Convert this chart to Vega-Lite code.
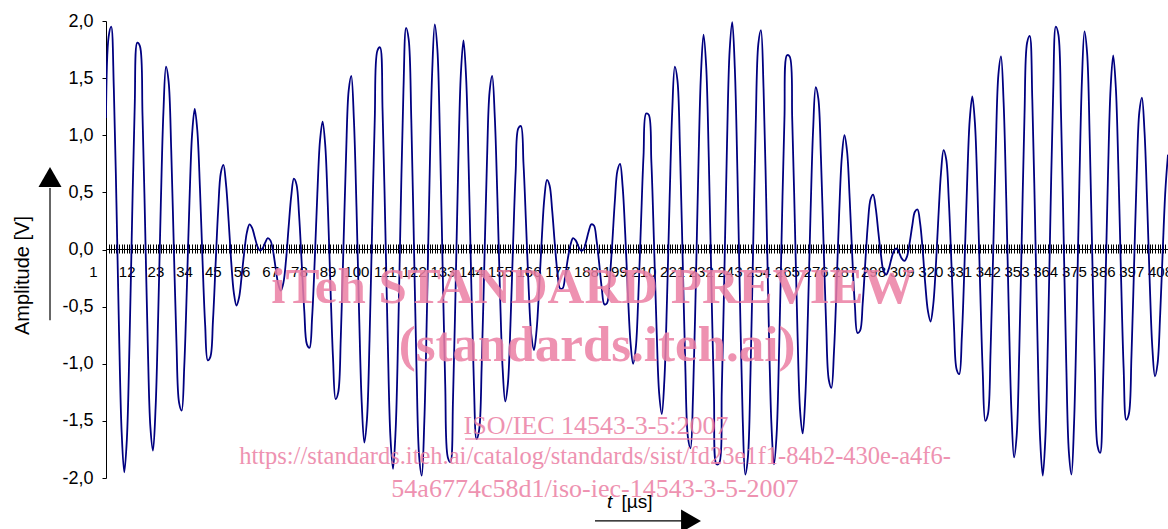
{
  "$schema": "https://vega.github.io/schema/vega-lite/v6.json",
  "width": 1062,
  "height": 457,
  "autosize": "none",
  "padding": {"left": 106, "top": 21, "right": 0, "bottom": 51},
  "background": "white",
  "config": {
    "view": {"stroke": null},
    "axis": {"domainColor": "black", "tickColor": "black", "labelColor": "black", "titleColor": "black", "grid": false}
  },
  "datasets": {
    "sig": [
      {"t":1,"v":1.15},{"t":2,"v":1.86},{"t":3,"v":1.95},{"t":4,"v":1.41},{"t":5,"v":0.41},{"t":6,"v":-0.72},{"t":7,"v":-1.60},{"t":8,"v":-1.95},{"t":9,"v":-1.66},{"t":10,"v":-0.83},
      {"t":11,"v":0.26},{"t":12,"v":1.25},{"t":13,"v":1.81},{"t":14,"v":1.78},{"t":15,"v":1.17},{"t":16,"v":0.20},{"t":17,"v":-0.82},{"t":18,"v":-1.55},{"t":19,"v":-1.76},{"t":20,"v":-1.39},
      {"t":21,"v":-0.58},{"t":22,"v":0.39},{"t":23,"v":1.20},{"t":24,"v":1.60},{"t":25,"v":1.47},{"t":26,"v":0.87},{"t":27,"v":0.01},{"t":28,"v":-0.81},{"t":29,"v":-1.34},{"t":30,"v":-1.41},
      {"t":31,"v":-1.02},{"t":32,"v":-0.33},{"t":33,"v":0.43},{"t":34,"v":1.01},{"t":35,"v":1.23},{"t":36,"v":1.04},{"t":37,"v":0.54},{"t":38,"v":-0.10},{"t":39,"v":-0.66},{"t":40,"v":-0.97},
      {"t":41,"v":-0.94},{"t":42,"v":-0.62},{"t":43,"v":-0.13},{"t":44,"v":0.35},{"t":45,"v":0.67},{"t":46,"v":0.74},{"t":47,"v":0.57},{"t":48,"v":0.25},{"t":49,"v":-0.11},{"t":50,"v":-0.38},
      {"t":51,"v":-0.49},{"t":52,"v":-0.42},{"t":53,"v":-0.23},{"t":54,"v":-0.02},{"t":55,"v":0.15},{"t":56,"v":0.22},{"t":57,"v":0.19},{"t":58,"v":0.11},{"t":59,"v":0.03},{"t":60,"v":-0.01},
      {"t":61,"v":0.01},{"t":62,"v":0.06},{"t":63,"v":0.10},{"t":64,"v":0.08},{"t":65,"v":-0.01},{"t":66,"v":-0.16},{"t":67,"v":-0.30},{"t":68,"v":-0.36},{"t":69,"v":-0.29},{"t":70,"v":-0.09},
      {"t":71,"v":0.20},{"t":72,"v":0.47},{"t":73,"v":0.62},{"t":74,"v":0.57},{"t":75,"v":0.30},{"t":76,"v":-0.12},{"t":77,"v":-0.54},{"t":78,"v":-0.83},{"t":79,"v":-0.86},{"t":80,"v":-0.59},
      {"t":81,"v":-0.09},{"t":82,"v":0.49},{"t":83,"v":0.95},{"t":84,"v":1.12},{"t":85,"v":0.92},{"t":86,"v":0.39},{"t":87,"v":-0.31},{"t":88,"v":-0.95},{"t":89,"v":-1.31},{"t":90,"v":-1.25},
      {"t":91,"v":-0.76},{"t":92,"v":0.02},{"t":93,"v":0.82},{"t":94,"v":1.39},{"t":95,"v":1.52},{"t":96,"v":1.14},{"t":97,"v":0.37},{"t":98,"v":-0.56},{"t":99,"v":-1.34},{"t":100,"v":-1.69},
      {"t":101,"v":-1.49},{"t":102,"v":-0.79},{"t":103,"v":0.20},{"t":104,"v":1.14},{"t":105,"v":1.74},{"t":106,"v":1.77},{"t":107,"v":1.21},{"t":108,"v":0.24},{"t":109,"v":-0.82},{"t":110,"v":-1.64},
      {"t":111,"v":-1.92},{"t":112,"v":-1.58},{"t":113,"v":-0.71},{"t":114,"v":0.41},{"t":115,"v":1.40},{"t":116,"v":1.94},{"t":117,"v":1.84},{"t":118,"v":1.14},{"t":119,"v":0.06},{"t":120,"v":-1.04},
      {"t":121,"v":-1.81},{"t":122,"v":-1.98},{"t":123,"v":-1.50},{"t":124,"v":-0.53},{"t":125,"v":0.61},{"t":126,"v":1.55},{"t":127,"v":1.97},{"t":128,"v":1.75},{"t":129,"v":0.96},{"t":130,"v":-0.14},
      {"t":131,"v":-1.18},{"t":132,"v":-1.82},{"t":133,"v":-1.86},{"t":134,"v":-1.30},{"t":135,"v":-0.32},{"t":136,"v":0.74},{"t":137,"v":1.54},{"t":138,"v":1.83},{"t":139,"v":1.51},{"t":140,"v":0.71},
      {"t":141,"v":-0.30},{"t":142,"v":-1.18},{"t":143,"v":-1.66},{"t":144,"v":-1.58},{"t":145,"v":-1.00},{"t":146,"v":-0.12},{"t":147,"v":0.77},{"t":148,"v":1.38},{"t":149,"v":1.52},{"t":150,"v":1.16},
      {"t":151,"v":0.45},{"t":152,"v":-0.38},{"t":153,"v":-1.04},{"t":154,"v":-1.33},{"t":155,"v":-1.18},{"t":156,"v":-0.66},{"t":157,"v":0.04},{"t":158,"v":0.68},{"t":159,"v":1.06},{"t":160,"v":1.08},
      {"t":161,"v":0.75},{"t":162,"v":0.21},{"t":163,"v":-0.35},{"t":164,"v":-0.75},{"t":165,"v":-0.88},{"t":166,"v":-0.71},{"t":167,"v":-0.34},{"t":168,"v":0.09},{"t":169,"v":0.45},{"t":170,"v":0.61},
      {"t":171,"v":0.56},{"t":172,"v":0.34},{"t":173,"v":0.05},{"t":174,"v":-0.20},{"t":175,"v":-0.34},{"t":176,"v":-0.34},{"t":177,"v":-0.23},{"t":178,"v":-0.08},{"t":179,"v":0.04},{"t":180,"v":0.10},
      {"t":181,"v":0.08},{"t":182,"v":0.03},{"t":183,"v":-0.01},{"t":184,"v":0.00},{"t":185,"v":0.07},{"t":186,"v":0.16},{"t":187,"v":0.22},{"t":188,"v":0.21},{"t":189,"v":0.08},{"t":190,"v":-0.12},
      {"t":191,"v":-0.34},{"t":192,"v":-0.48},{"t":193,"v":-0.47},{"t":194,"v":-0.27},{"t":195,"v":0.05},{"t":196,"v":0.42},{"t":197,"v":0.69},{"t":198,"v":0.75},{"t":199,"v":0.55},{"t":200,"v":0.13},
      {"t":201,"v":-0.38},{"t":202,"v":-0.81},{"t":203,"v":-1.00},{"t":204,"v":-0.87},{"t":205,"v":-0.42},{"t":206,"v":0.21},{"t":207,"v":0.82},{"t":208,"v":1.19},{"t":209,"v":1.18},{"t":210,"v":0.77},
      {"t":211,"v":0.07},{"t":212,"v":-0.69},{"t":213,"v":-1.26},{"t":214,"v":-1.44},{"t":215,"v":-1.14},{"t":216,"v":-0.44},{"t":217,"v":0.44},{"t":218,"v":1.21},{"t":219,"v":1.60},{"t":220,"v":1.48},
      {"t":221,"v":0.85},{"t":222,"v":-0.08},{"t":223,"v":-1.01},{"t":224,"v":-1.64},{"t":225,"v":-1.74},{"t":226,"v":-1.26},{"t":227,"v":-0.35},{"t":228,"v":0.69},{"t":229,"v":1.53},{"t":230,"v":1.88},
      {"t":231,"v":1.61},{"t":232,"v":0.81},{"t":233,"v":-0.28},{"t":234,"v":-1.29},{"t":235,"v":-1.88},{"t":236,"v":-1.87},{"t":237,"v":-1.23},{"t":238,"v":-0.19},{"t":239,"v":0.93},{"t":240,"v":1.74},
      {"t":241,"v":1.99},{"t":242,"v":1.58},{"t":243,"v":0.66},{"t":244,"v":-0.49},{"t":245,"v":-1.47},{"t":246,"v":-1.97},{"t":247,"v":-1.82},{"t":248,"v":-1.08},{"t":249,"v":0.01},{"t":250,"v":1.09},
      {"t":251,"v":1.80},{"t":252,"v":1.92},{"t":253,"v":1.41},{"t":254,"v":0.45},{"t":255,"v":-0.65},{"t":256,"v":-1.52},{"t":257,"v":-1.88},{"t":258,"v":-1.62},{"t":259,"v":-0.84},{"t":260,"v":0.19},
      {"t":261,"v":1.14},{"t":262,"v":1.70},{"t":263,"v":1.69},{"t":264,"v":1.13},{"t":265,"v":0.23},{"t":266,"v":-0.72},{"t":267,"v":-1.41},{"t":268,"v":-1.61},{"t":269,"v":-1.29},{"t":270,"v":-0.57},
      {"t":271,"v":0.31},{"t":272,"v":1.05},{"t":273,"v":1.42},{"t":274,"v":1.32},{"t":275,"v":0.80},{"t":276,"v":0.05},{"t":277,"v":-0.67},{"t":278,"v":-1.14},{"t":279,"v":-1.21},{"t":280,"v":-0.89},
      {"t":281,"v":-0.31},{"t":282,"v":0.33},{"t":283,"v":0.81},{"t":284,"v":1.00},{"t":285,"v":0.86},{"t":286,"v":0.45},{"t":287,"v":-0.06},{"t":288,"v":-0.49},{"t":289,"v":-0.73},{"t":290,"v":-0.71},
      {"t":291,"v":-0.47},{"t":292,"v":-0.11},{"t":293,"v":0.23},{"t":294,"v":0.44},{"t":295,"v":0.48},{"t":296,"v":0.36},{"t":297,"v":0.15},{"t":298,"v":-0.05},{"t":299,"v":-0.19},{"t":300,"v":-0.22},
      {"t":301,"v":-0.17},{"t":302,"v":-0.08},{"t":303,"v":-0.01},{"t":304,"v":0.01},{"t":305,"v":-0.03},{"t":306,"v":-0.08},{"t":307,"v":-0.10},{"t":308,"v":-0.06},{"t":309,"v":0.06},{"t":310,"v":0.21},
      {"t":311,"v":0.33},{"t":312,"v":0.35},{"t":313,"v":0.23},{"t":314,"v":-0.01},{"t":315,"v":-0.31},{"t":316,"v":-0.54},{"t":317,"v":-0.63},{"t":318,"v":-0.49},{"t":319,"v":-0.16},{"t":320,"v":0.28},
      {"t":321,"v":0.67},{"t":322,"v":0.87},{"t":323,"v":0.79},{"t":324,"v":0.43},{"t":325,"v":-0.12},{"t":326,"v":-0.68},{"t":327,"v":-1.05},{"t":328,"v":-1.09},{"t":329,"v":-0.76},{"t":330,"v":-0.14},
      {"t":331,"v":0.57},{"t":332,"v":1.13},{"t":333,"v":1.34},{"t":334,"v":1.11},{"t":335,"v":0.50},{"t":336,"v":-0.32},{"t":337,"v":-1.07},{"t":338,"v":-1.50},{"t":339,"v":-1.44},{"t":340,"v":-0.89},
      {"t":341,"v":-0.03},{"t":342,"v":0.88},{"t":343,"v":1.53},{"t":344,"v":1.69},{"t":345,"v":1.29},{"t":346,"v":0.45},{"t":347,"v":-0.56},{"t":348,"v":-1.42},{"t":349,"v":-1.82},{"t":350,"v":-1.63},
      {"t":351,"v":-0.89},{"t":352,"v":0.15},{"t":353,"v":1.17},{"t":354,"v":1.81},{"t":355,"v":1.87},{"t":356,"v":1.31},{"t":357,"v":0.31},{"t":358,"v":-0.80},{"t":359,"v":-1.66},{"t":360,"v":-1.98},
      {"t":361,"v":-1.65},{"t":362,"v":-0.77},{"t":363,"v":0.36},{"t":364,"v":1.38},{"t":365,"v":1.95},{"t":366,"v":1.88},{"t":367,"v":1.19},{"t":368,"v":0.12},{"t":369,"v":-0.99},{"t":370,"v":-1.77},
      {"t":371,"v":-1.97},{"t":372,"v":-1.52},{"t":373,"v":-0.58},{"t":374,"v":0.54},{"t":375,"v":1.47},{"t":376,"v":1.91},{"t":377,"v":1.72},{"t":378,"v":0.97},{"t":379,"v":-0.08},{"t":380,"v":-1.08},
      {"t":381,"v":-1.72},{"t":382,"v":-1.78},{"t":383,"v":-1.26},{"t":384,"v":-0.35},{"t":385,"v":0.65},{"t":386,"v":1.41},{"t":387,"v":1.70},{"t":388,"v":1.42},{"t":389,"v":0.70},{"t":390,"v":-0.23},
      {"t":391,"v":-1.04},{"t":392,"v":-1.49},{"t":393,"v":-1.44},{"t":394,"v":-0.93},{"t":395,"v":-0.14},{"t":396,"v":0.65},{"t":397,"v":1.20},{"t":398,"v":1.33},{"t":399,"v":1.03},{"t":400,"v":0.42},
      {"t":401,"v":-0.29},{"t":402,"v":-0.86},{"t":403,"v":-1.11},{"t":404,"v":-1.00},{"t":405,"v":-0.57},{"t":406,"v":0.00},{"t":407,"v":0.52},{"t":408,"v":0.83}
    ],
    "zero": [{"v": 0}],
    "arrows": [
      {"t": -20.46, "v": 0.538, "t2": -20.46, "v2": -0.62},
      {"t": 188.4, "v": -2.376, "t2": 222.1, "v2": -2.376}
    ],
    "heads": [
      {"t": -20.46, "v": 0.635, "shape": "triangle-up"},
      {"t": 225.2, "v": -2.376, "shape": "triangle-right"}
    ],
    "wmBig": [
      {"t": 187.6, "v": -0.337, "label": "iTeh STANDARD PREVIEW"},
      {"t": 189.2, "v": -0.845, "label": "(standards.iteh.ai)"}
    ],
    "wmSmall": [
      {"t": 188.8, "v": -1.545, "label": "ISO/IEC 14543-3-5:2007", "fs": 26},
      {"t": 188.4, "v": -1.816, "label": "https://standards.iteh.ai/catalog/standards/sist/fd23e1f1-84b2-430e-a4f6-", "fs": 24.5},
      {"t": 188.4, "v": -2.096, "label": "54a6774c58d1/iso-iec-14543-3-5-2007", "fs": 26}
    ],
    "underline": [{"t": 138.6, "t2": 239.0, "v": -1.659}],
    "xtitleT": [{"t": 194.0, "v": -2.21, "label": "t"}],
    "xtitleU": [{"t": 204.5, "v": -2.21, "label": "[µs]"}]
  },
  "layer": [
    {
      "data": {"name": "zero"},
      "mark": {"type": "rule", "color": "black", "strokeWidth": 1},
      "encoding": {"y": {"field": "v", "type": "quantitative"}}
    },
    {
      "data": {"name": "sig"},
      "mark": {"type": "line", "color": "#000080", "strokeWidth": 1.8, "interpolate": "catmull-rom", "clip": true},
      "encoding": {
        "x": {
          "field": "t", "type": "quantitative",
          "scale": {"domain": [1, 408], "nice": false, "zero": false},
          "axis": {
            "orient": "bottom", "offset": -234, "title": null, "domain": false,
            "tickCount": 408, "tickSize": 9, "tickWidth": 1,
            "labelExpr": "(datum.value - 1) % 11 == 0 ? datum.label : ''",
            "labelOverlap": false, "labelFlush": false, "labelBound": false,
            "labelFont": "Liberation Sans", "labelFontSize": 15, "labelPadding": 11,
            "labelOffset": {"condition": {"test": "datum.value == 1", "value": -13}, "value": -8}
          }
        },
        "y": {
          "field": "v", "type": "quantitative",
          "scale": {"domain": [-2, 2], "nice": false, "zero": false},
          "axis": {
            "title": "Amplitude [V]", "titleFont": "Liberation Sans", "titleFontSize": 20, "titleFontWeight": "normal",
            "titleAngle": -90, "titleX": -84, "titleY": 254, "titleAlign": "center", "titleBaseline": "middle",
            "values": [-2, -1.5, -1, -0.5, 0, 0.5, 1, 1.5, 2],
            "tickSize": 4, "labelPadding": 9, "labelFont": "Liberation Sans", "labelFontSize": 18,
            "labelExpr": "replace(replace(format(datum.value, '.1f'), '.', ','), '\u2212', '-')"
          }
        }
      }
    },
    {
      "data": {"name": "arrows"},
      "mark": {"type": "rule", "color": "black", "strokeWidth": 1.2},
      "encoding": {
        "x": {"field": "t", "type": "quantitative"},
        "x2": {"field": "t2"},
        "y": {"field": "v", "type": "quantitative"},
        "y2": {"field": "v2"}
      }
    },
    {
      "data": {"name": "heads"},
      "mark": {"type": "point", "filled": true, "color": "black", "opacity": 1, "size": 529},
      "encoding": {
        "x": {"field": "t", "type": "quantitative"},
        "y": {"field": "v", "type": "quantitative"},
        "shape": {"field": "shape", "type": "nominal", "scale": null}
      }
    },
    {
      "data": {"name": "wmBig"},
      "mark": {"type": "text", "font": "Liberation Serif", "fontWeight": "bold", "fontSize": 51, "color": "#ec7fa4", "opacity": 0.85, "align": "center", "baseline": "middle"},
      "encoding": {
        "x": {"field": "t", "type": "quantitative"},
        "y": {"field": "v", "type": "quantitative"},
        "text": {"field": "label"}
      }
    },
    {
      "data": {"name": "wmSmall"},
      "mark": {"type": "text", "font": "Liberation Serif", "color": "#ec7fa4", "opacity": 0.85, "align": "center", "baseline": "middle"},
      "encoding": {
        "x": {"field": "t", "type": "quantitative"},
        "y": {"field": "v", "type": "quantitative"},
        "size": {"field": "fs", "type": "quantitative", "scale": null},
        "text": {"field": "label"}
      }
    },
    {
      "data": {"name": "underline"},
      "mark": {"type": "rule", "color": "#ec7fa4", "opacity": 0.85, "strokeWidth": 1.5},
      "encoding": {
        "x": {"field": "t", "type": "quantitative"},
        "x2": {"field": "t2"},
        "y": {"field": "v", "type": "quantitative"}
      }
    },
    {
      "data": {"name": "xtitleT"},
      "mark": {"type": "text", "font": "Liberation Sans", "fontStyle": "italic", "fontSize": 19, "color": "black", "align": "center", "baseline": "middle"},
      "encoding": {
        "x": {"field": "t", "type": "quantitative"},
        "y": {"field": "v", "type": "quantitative"},
        "text": {"field": "label"}
      }
    },
    {
      "data": {"name": "xtitleU"},
      "mark": {"type": "text", "font": "Liberation Sans", "fontSize": 19, "color": "black", "align": "center", "baseline": "middle"},
      "encoding": {
        "x": {"field": "t", "type": "quantitative"},
        "y": {"field": "v", "type": "quantitative"},
        "text": {"field": "label"}
      }
    }
  ]
}
